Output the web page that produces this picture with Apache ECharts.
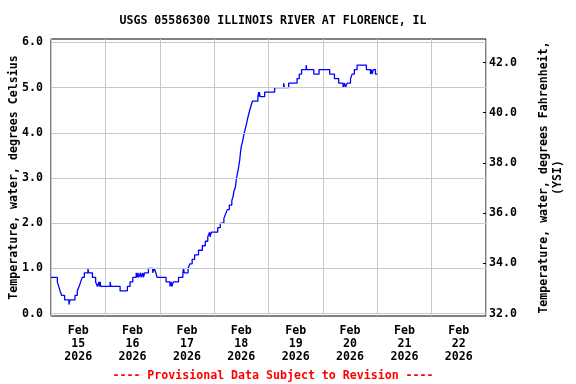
<!DOCTYPE html>
<html>
<head>
<meta charset="utf-8">
<script src="https://cdn.jsdelivr.net/npm/echarts@6/dist/echarts.min.js"></script>
<style>
html,body{margin:0;padding:0;background:#fff;}
#chart{width:576px;height:384px;}
</style>
</head>
<body>
<div id="chart"></div>
<script>
// Hours since Feb 15 2026 00:00 at which the reading changes, and the reading (deg C) from then on
const hours = [0, 2.8, 3.4, 4.0, 4.7, 6.0, 7.9, 8.4, 10.6, 11.6, 12.4, 13.1, 13.8, 14.7, 16.3, 16.6,
  18.3, 19.7, 20.5, 21.2, 21.4, 21.7, 21.9, 26.1, 26.4, 30.5, 33.7, 34.9, 36.1, 37.6, 38.0, 38.4,
  38.7, 39.5, 39.8, 40.5, 40.8, 41.3, 43.0, 44.9, 45.5, 46.3, 46.8, 50.8, 52.5, 53.0, 53.3, 54.0,
  56.3, 58.2, 58.5, 58.8, 60.5, 61.3, 62.3, 63.4, 65.1, 66.8, 68.1, 69.2, 70.0, 70.2, 70.8, 73.6,
  74.7, 76.3, 77.0, 77.8, 78.7, 79.8, 80.4, 80.7, 81.4, 81.9, 82.3, 82.7, 83.0, 83.3, 83.7, 84.0,
  84.5, 84.9, 85.3, 85.8, 86.3, 86.7, 87.2, 87.7, 88.3, 88.9, 91.3, 91.7, 91.9, 92.0, 92.3, 94.3,
  98.7, 102.7, 103.0, 104.9, 108.6, 109.6, 110.6, 112.6, 112.9, 116.0, 118.3, 123.0, 125.1, 127.0,
  128.9, 129.6, 130.0, 130.7, 132.2, 132.9, 133.9, 135.1, 139.2, 141.0, 141.4, 141.8, 142.2, 143.2, 144.0];
const tempC = [0.8, 0.7, 0.6, 0.5, 0.4, 0.3, 0.2, 0.3, 0.4, 0.5, 0.6, 0.7, 0.8, 0.9, 1.0, 0.9,
  0.8, 0.7, 0.6, 0.7, 0.6, 0.7, 0.6, 0.7, 0.6, 0.5, 0.6, 0.7, 0.8, 0.9, 0.8, 0.9,
  0.8, 0.9, 0.8, 0.9, 0.8, 0.9, 1.0, 0.9, 1.0, 0.9, 0.8, 0.7, 0.6, 0.7, 0.6, 0.7,
  0.8, 0.9, 1.0, 0.9, 1.0, 1.1, 1.2, 1.3, 1.4, 1.5, 1.6, 1.7, 1.8, 1.7, 1.8, 1.9,
  2.0, 2.1, 2.2, 2.3, 2.4, 2.5, 2.6, 2.7, 2.8, 3.0, 3.1, 3.2, 3.3, 3.4, 3.6, 3.7,
  3.8, 3.9, 4.0, 4.1, 4.2, 4.3, 4.4, 4.5, 4.6, 4.7, 4.8, 4.9, 4.8, 4.9, 4.8, 4.9,
  5.0, 5.1, 5.0, 5.1, 5.2, 5.3, 5.4, 5.5, 5.4, 5.3, 5.4, 5.3, 5.2, 5.1,
  5.0, 5.1, 5.0, 5.1, 5.2, 5.3, 5.4, 5.5, 5.4, 5.3, 5.4, 5.3, 5.4, 5.3, 5.3];
const dayLabels = ['Feb\n15\n2026', 'Feb\n16\n2026', 'Feb\n17\n2026', 'Feb\n18\n2026',
  'Feb\n19\n2026', 'Feb\n20\n2026', 'Feb\n21\n2026', 'Feb\n22\n2026'];
const celsiusTicks = [0, 1, 2, 3, 4, 5, 6];
const fahrenheitTicks = [32, 34, 36, 38, 40, 42];
const titleText = 'USGS 05586300 ILLINOIS RIVER AT FLORENCE, IL';
const footerText = '---- Provisional Data Subject to Revision ----';
const leftName = 'Temperature, water, degrees Celsius';
const rightName = 'Temperature, water, degrees Fahrenheit,\n(YSI)';
const yMinC = -0.055, yMaxC = 6.077;
const hourSpan = 192;

const FONT = 'DejaVu Sans Mono';
const FS = 11.6;
const toF = c => 32 + c * 1.8;

const chart = echarts.init(document.getElementById('chart'), null, {renderer: 'canvas'});
chart.setOption({
  animation: false,
  backgroundColor: '#fff',
  title: [
    {text: titleText, left: 268, top: 10, textAlign: 'center',
     textStyle: {fontFamily: FONT, fontWeight: 'bold', fontSize: FS, color: '#000'}},
    {text: footerText, left: 268, top: 365, textAlign: 'center',
     textStyle: {fontFamily: FONT, fontWeight: 'bold', fontSize: FS, color: '#ff0000'}}
  ],
  grid: {left: 51, right: 90, top: 39, bottom: 68, show: true, containLabel: false,
         outerBoundsMode: 'none',
         borderColor: '#000', borderWidth: 1, backgroundColor: 'transparent'},
  xAxis: [
    {type: 'value', min: 0, max: hourSpan, interval: 24,
     axisLine: {show: false}, axisTick: {show: false}, axisLabel: {show: false},
     splitLine: {show: true, lineStyle: {color: '#c8c8c8', width: 1}}},
    {type: 'category', data: dayLabels, position: 'bottom', boundaryGap: true,
     axisLine: {show: false}, axisTick: {show: false}, splitLine: {show: false},
     axisLabel: {fontFamily: FONT, fontWeight: 'bold', fontSize: FS, color: '#000',
                 lineHeight: 13, margin: 8, interval: 0}}
  ],
  yAxis: [
    {type: 'value', min: yMinC, max: yMaxC, position: 'left',
     axisLine: {show: false}, axisTick: {show: false}, splitLine: {show: false},
     axisLabel: {customValues: celsiusTicks, formatter: v => v.toFixed(1),
                 fontFamily: FONT, fontWeight: 'bold', fontSize: FS, color: '#000', margin: 8},
     name: leftName, nameLocation: 'middle', nameGap: 31, nameMoveOverlap: false,
     nameTextStyle: {fontFamily: FONT, fontWeight: 'bold', fontSize: FS, color: '#000'}},
    {type: 'value', min: toF(yMinC), max: toF(yMaxC), position: 'right',
     axisLine: {show: false}, splitLine: {show: false},
     axisTick: {show: true, inside: true, length: 3, customValues: fahrenheitTicks,
                lineStyle: {color: '#000'}},
     axisLabel: {customValues: fahrenheitTicks, formatter: v => v.toFixed(1),
                 fontFamily: FONT, fontWeight: 'bold', fontSize: FS, color: '#000', margin: 3},
     name: rightName, nameLocation: 'middle', nameGap: 51, nameRotate: 90,
     nameTextStyle: {fontFamily: FONT, fontWeight: 'bold', fontSize: FS, color: '#000',
                     lineHeight: 14, align: 'center'}}
  ],
  series: [
    {type: 'line', data: [], xAxisIndex: 0, yAxisIndex: 0, z: 1, silent: true,
     markLine: {silent: true, symbol: 'none', animation: false, label: {show: false},
                lineStyle: {color: '#c8c8c8', type: 'solid', width: 1},
                emphasis: {disabled: true},
                data: celsiusTicks.map(v => ({yAxis: v}))}},
    {type: 'line', step: 'end', xAxisIndex: 0, yAxisIndex: 0, z: 3,
     showSymbol: false, symbol: 'none',
     lineStyle: {color: '#0000ff', width: 1.3},
     data: hours.map((h, i) => [h, tempC[i]])}
  ]
});
</script>
</body>
</html>
